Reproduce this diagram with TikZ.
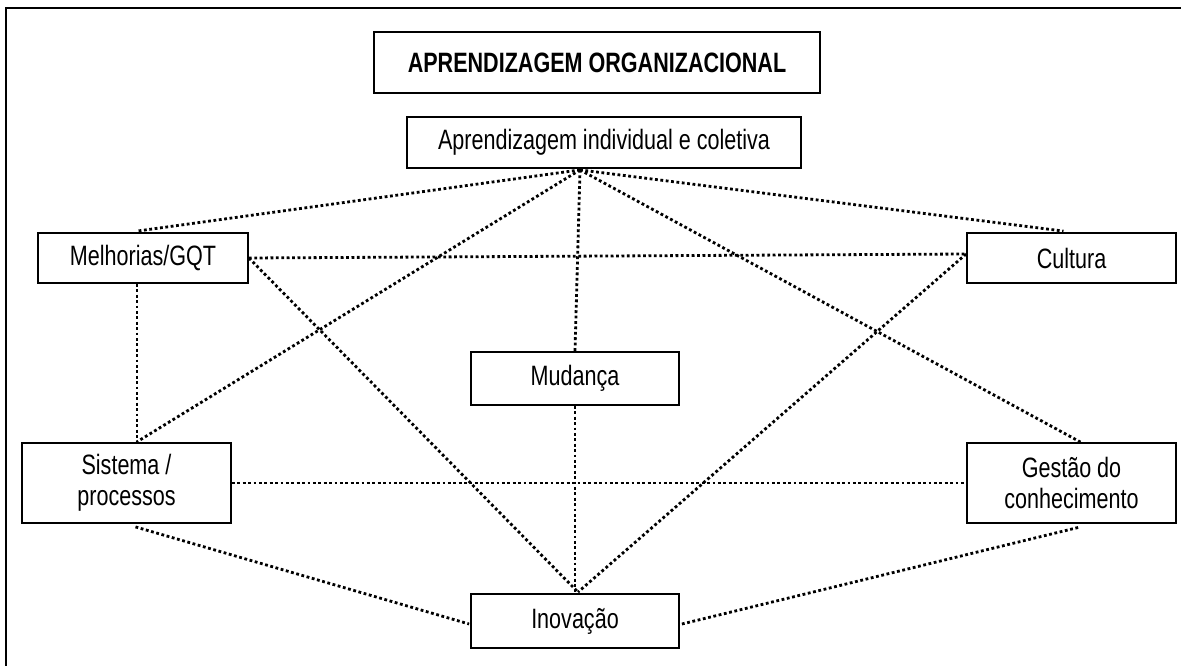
\documentclass[tikz,border=0pt]{standalone}
\usepackage{fontspec}
\setmainfont{Liberation Sans}[FakeStretch=0.77]
\usetikzlibrary{calc}
\begin{document}
\begin{tikzpicture}[x=1pt,y=-1pt,
  box/.style={draw,line width=1.8pt,rectangle,inner sep=0pt,align=center,font=\fontsize{28}{31}\selectfont},
  link/.style={line width=2.8pt,dash pattern=on 2.8pt off 2.6pt}]
\useasboundingbox (0,0) rectangle (1181,666);
\draw[line width=2.5pt] (6,666) -- (6,8) -- (1181,8);
\node[box,minimum width=446,minimum height=61,font=\fontsize{28}{31}\selectfont\bfseries] (title) at (597,62.5) {APRENDIZAGEM ORGANIZACIONAL};
\node[box,minimum width=394,minimum height=51] (aprend) at (604,142.5) {Aprendizagem individual e coletiva};
\node[box,minimum width=210,minimum height=50] (melh) at (143,258) {Melhorias/GQT};
\node[box,minimum width=209,minimum height=50] (cult) at (1071.5,258) {Cultura};
\node[box,minimum width=208,minimum height=53] (mud) at (575,378.5) {Mudança};
\node[box,minimum width=209,minimum height=80] (sist) at (126.5,483) {Sistema /\\processos};
\node[box,minimum width=209,minimum height=80] (gest) at (1071.5,483) {Gestão do\\conhecimento};
\node[box,minimum width=208,minimum height=54] (inov) at (575,621) {Inovação};
\coordinate (ap) at ($(aprend.south)+(-24,1)$);
\coordinate (melhT) at ($(melh.north)+(-6,-1)$);
\coordinate (cultT) at ($(cult.north)+(-8,-1)$);
\coordinate (sistT) at ($(sist.north)+(10,0)$);
\coordinate (gestT) at ($(gest.north)+(9,0)$);
\coordinate (cultL) at ($(cult.west)+(0,-4)$);
\coordinate (inovT) at ($(inov.north)+(3,-1)$);
\coordinate (sistB) at ($(sist.south)+(9,3)$);
\coordinate (gestB) at ($(gest.south)+(9,3)$);
\coordinate (inovL) at ($(inov.west)+(-1,3)$);
\coordinate (inovR) at ($(inov.east)+(2,3)$);
\draw[link] (ap) -- (melhT);
\draw[link] (ap) -- (cultT);
\draw[link] (ap) -- (mud.north);
\draw[link] (ap) -- (sistT);
\draw[link] (ap) -- (gestT);
\draw[link] (melh.east) -- (cultL);
\draw[link] (melh.east) -- (inovT);
\draw[link] (melhT|-melh.south) -- (melhT|-sist.north);
\draw[link] (cultL) -- (inovT);
\draw[link] (sist.east) -- (gest.west);
\draw[link] (mud.south) -- (inov.north);
\draw[link] (sistB) -- (inovL);
\draw[link] (inovR) -- (gestB);
\end{tikzpicture}
\end{document}
